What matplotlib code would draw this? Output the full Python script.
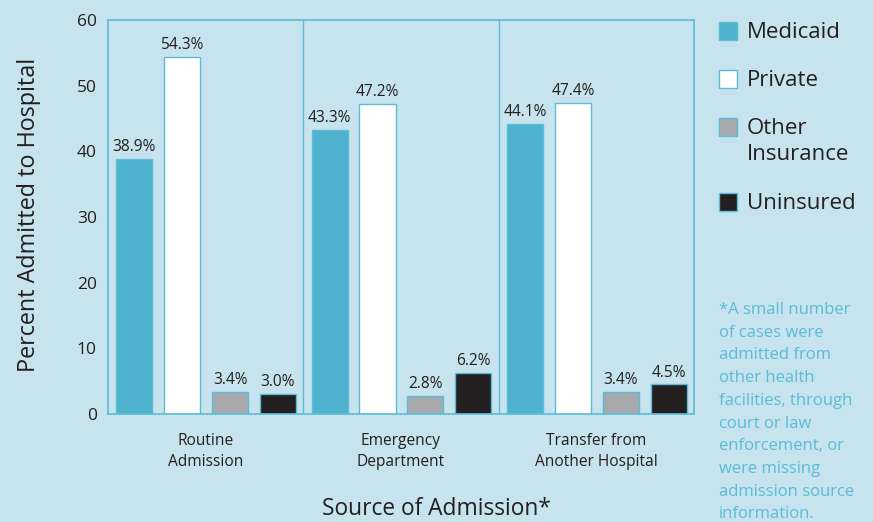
import matplotlib
matplotlib.use("Agg")
import matplotlib.pyplot as plt
from matplotlib.patches import Rectangle
import numpy as np

categories = ["Routine\nAdmission", "Emergency\nDepartment", "Transfer from\nAnother Hospital"]
series = ["Medicaid", "Private", "Other\nInsurance", "Uninsured"]
medicaid = [38.9, 43.3, 44.1]
private = [54.3, 47.2, 47.4]
other = [3.4, 2.8, 3.4]
uninsured = [3.0, 6.2, 4.5]
yticks = [0, 10, 20, 30, 40, 50, 60]
footnote = ("*A small number\nof cases were\nadmitted from\nother health\nfacilities, through\n"
            "court or law\nenforcement, or\nwere missing\nadmission source\ninformation.")

BG = "#c7e3ee"
FRAME = "#5bbcd6"
TXT = "#231f20"
colors = ["#4fb3d0", "#ffffff", "#a7a9ac", "#231f20"]
FONT = "Open Sans"

plt.rcParams['font.family'] = [FONT, 'DejaVu Sans']

fig = plt.figure(figsize=(8.73, 5.22), dpi=100, facecolor=BG)
W, H = 873, 522
L, R, T, B = 108, 694, 20, 414
ax = fig.add_axes([L / W, 1 - B / H, (R - L) / W, (B - T) / H])
ax.set_facecolor(BG)

x = np.arange(len(categories))
offsets = [-0.365, -0.12, 0.125, 0.37]
bw = 0.185
data = [medicaid, private, other, uninsured]
for vals, off, col in zip(data, offsets, colors):
    bars = ax.bar(x + off, vals, width=bw, color=col, edgecolor=FRAME, linewidth=1.0, zorder=2)
    for b, v in zip(bars, vals):
        ax.text(b.get_x() + b.get_width() / 2, v + 0.6, f"{v:.1f}%", ha="center", va="bottom",
                fontsize=11.2, color=TXT)

ax.set_xlim(-0.5, 2.5)
ax.set_ylim(0, 60)
ax.set_yticks(yticks)
ax.set_yticklabels([str(t) for t in yticks], fontsize=12.5, color=TXT)
ax.set_xticks(x)
ax.set_xticklabels(categories, fontsize=11.2, color=TXT, linespacing=1.42)
ax.tick_params(axis="y", length=0, pad=8)
ax.tick_params(axis="x", length=0, pad=14)
for s in ax.spines.values():
    s.set_color(FRAME)
    s.set_linewidth(1.2)
for xv in [0.5, 1.5]:
    ax.axvline(xv, color=FRAME, linewidth=1.0, zorder=1)

ax.set_ylabel("Percent Admitted to Hospital", fontsize=16.8, color=TXT, va="center")
ax.yaxis.set_label_coords(-(108 - 29) / 586, (414 - 215) / 394)
ax.set_xlabel("Source of Admission*", fontsize=16.4, color=TXT, va="center")
ax.xaxis.set_label_coords((436 - 108) / 586, -(509 - 414) / 394)

# legend
leg_y = [31, 79, 127, 202]
for lab, col, yc in zip(series, colors, leg_y):
    fig.patches.append(Rectangle((719 / W, 1 - (yc + 9) / H), 18 / W, 18 / H,
                                 transform=fig.transFigure, facecolor=col,
                                 edgecolor=FRAME, linewidth=1.0))
    fig.text(747 / W, 1 - (yc - 9) / H, lab, fontsize=16, color=TXT, va="top", ha="left",
             linespacing=1.29)

fig.text(719 / W, 1 - 302 / H, footnote, fontsize=12.0, color=FRAME, va="top", ha="left",
         linespacing=1.56)

fig.savefig("out.png", dpi=100, facecolor=BG)
